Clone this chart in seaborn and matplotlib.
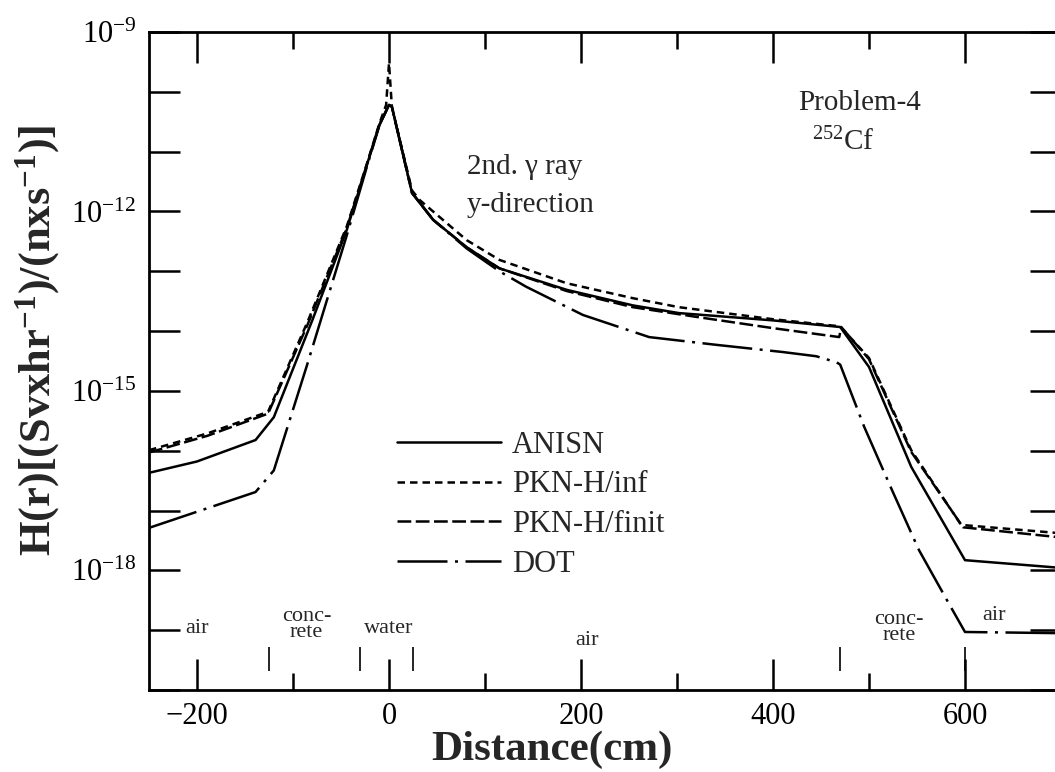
import numpy as np
import pandas as pd
import matplotlib
matplotlib.use("Agg")
import matplotlib.pyplot as plt
import matplotlib.ticker as mticker
import seaborn as sns

# --- data (distance in cm, H in Sv/hr per n/s) ---
models = ["ANISN", "PKN-H/inf", "PKN-H/finit", "DOT"]

anisn_x = [-250, -200, -139, -120, -80, -44, -23, -10, 0, 3, 24, 46, 81, 115,
           185, 254, 302, 400, 470, 500, 544, 600, 700]
anisn_h = [4.27e-17, 6.61e-17, 1.51e-16, 3.63e-16, 1.5e-14, 4.9e-13, 6.03e-12,
           2.82e-11, 6.03e-11, 5.62e-11, 2.04e-12, 7.24e-13, 2.51e-13, 1.12e-13,
           4.9e-14, 2.69e-14, 2.0e-14, 1.51e-14, 1.17e-14, 2.51e-15, 5.37e-17,
           1.48e-18, 1.10e-18]

pkn_inf_x = [-250, -189, -126, -85, -44, -23, -10, -3, 0, 3, 24, 32, 81, 115,
             185, 254, 302, 400, 470, 500, 544, 596, 700]
pkn_inf_h = [1.02e-16, 1.95e-16, 4.47e-16, 1.41e-14, 5.62e-13, 6.31e-12,
             2.95e-11, 6.03e-11, 3.02e-10, 5.62e-11, 2.24e-12, 1.55e-12,
             3.31e-13, 1.55e-13, 6.31e-14, 3.55e-14, 2.51e-14, 1.58e-14,
             1.2e-14, 3.55e-15, 1.02e-16, 5.75e-18, 4.17e-18]

pkn_fin_x = [-250, -189, -126, -85, -44, -23, -10, 0, 3, 24, 46, 81, 115, 185,
             254, 323, 400, 469, 471, 500, 544, 598, 700]
pkn_fin_h = [9.33e-17, 1.78e-16, 4.17e-16, 1.26e-14, 5.25e-13, 6.03e-12,
             2.82e-11, 6.03e-11, 5.62e-11, 2.04e-12, 7.24e-13, 2.51e-13,
             1.12e-13, 4.68e-14, 2.51e-14, 1.7e-14, 1.12e-14, 7.94e-15,
             1.17e-14, 3.39e-15, 9.55e-17, 5.25e-18, 3.55e-18]

dot_x = [-250, -139, -120, -86, -44, -23, -10, 0, 3, 24, 46, 81, 115, 143, 202,
         271, 341, 410, 445, 466, 470, 495, 524, 552, 583, 600, 700]
dot_h = [5.13e-18, 2.04e-17, 4.68e-17, 2.51e-15, 3.98e-13, 5.62e-12, 2.75e-11,
         6.03e-11, 5.62e-11, 2.04e-12, 7.24e-13, 2.4e-13, 1.0e-13, 5.5e-14,
         1.86e-14, 7.94e-15, 5.89e-15, 4.47e-15, 3.8e-15, 3.02e-15, 2.75e-15,
         2.51e-16, 2.19e-17, 2.19e-18, 2.82e-19, 9.33e-20, 8.91e-20]

# material boundaries and region names
boundaries = [-125, -30, 25, 470, 600]
region_names = ["air", "conc-\nrete", "water", "air", "conc-\nrete", "air"]
region_x = [-200, -86, 0, 206, 531, 630]
region_y = [1.07e-19, 1.26e-19, 1.07e-19, 6.8e-20, 1.1e-19, 1.78e-19]

frames = []
for name, xs, hs in zip(models,
                        [anisn_x, pkn_inf_x, pkn_fin_x, dot_x],
                        [anisn_h, pkn_inf_h, pkn_fin_h, dot_h]):
    frames.append(pd.DataFrame({"Distance": xs, "H": hs, "model": name}))
df = pd.concat(frames, ignore_index=True)

# --- style ---
sns.set_style("ticks")
plt.rcParams["font.family"] = ["Liberation Serif", "DejaVu Serif"]
plt.rcParams["mathtext.fontset"] = "custom"
plt.rcParams["mathtext.rm"] = "Liberation Serif"
plt.rcParams["mathtext.it"] = "Liberation Serif:italic"
plt.rcParams["mathtext.bf"] = "Liberation Serif:bold"

fig = plt.figure(figsize=(10.55, 7.72), dpi=100)
ax = fig.add_axes([149 / 1055, 1 - 690 / 772, 912 / 1055, 658 / 772])

dash_map = {"ANISN": "", "PKN-H/inf": (3, 2), "PKN-H/finit": (5.5, 1.8),
            "DOT": (20, 3, 1.2, 3)}
sns.lineplot(data=df, x="Distance", y="H", style="model", style_order=models,
             dashes=dash_map, color="black", linewidth=1.8, estimator=None,
             sort=False, legend=False, ax=ax)

ax.set_yscale("log")
ax.set_xlim(-250, 700)
ax.set_ylim(1e-20, 1e-9)

# x ticks
ax.xaxis.set_major_locator(mticker.MultipleLocator(200))
ax.xaxis.set_minor_locator(mticker.MultipleLocator(100))
ax.xaxis.set_major_formatter(mticker.FuncFormatter(lambda v, p: f"{v:.0f}".replace("-", "\u2212")))

# y ticks: every decade, labels every third decade
ax.yaxis.set_major_locator(mticker.LogLocator(base=10, numticks=30))
ax.yaxis.set_minor_locator(mticker.NullLocator())
def ylab(v, p):
    e = int(round(np.log10(v)))
    return rf"$10^{{{e}}}$" if e in (-9, -12, -15, -18) else ""
ax.yaxis.set_major_formatter(mticker.FuncFormatter(ylab))

ax.tick_params(which="both", direction="in", top=True, right=True,
               width=1.8, labelsize=22, pad=9, colors="black")
ax.tick_params(which="major", length=22)
ax.tick_params(which="minor", length=12)
for s in ax.spines.values():
    s.set_linewidth(2)
    s.set_color("black")

ax.set_xlabel("Distance(cm)", fontsize=31, fontweight="bold")
ax.xaxis.set_label_coords((552 - 149) / 912, -0.062)
ax.set_ylabel(r"H(r)[(Svxhr$^{\mathbf{-1}}$)/(nxs$^{\mathbf{-1}}$)]",
              fontsize=32, fontweight="bold")
ax.yaxis.set_label_coords(-0.095, 0.532)

# legend
ax.legend(ax.lines[:4], models, loc="upper left", bbox_to_anchor=(0.272, 0.394),
          frameon=False, fontsize=22, handlelength=3.4, handletextpad=0.35,
          labelspacing=0.35, borderaxespad=0, borderpad=0)

# annotations
ax.text(81, 5.5e-12, "2nd. \u03b3 ray", fontsize=21, va="center", ha="left")
ax.text(81, 1.3e-12, "y-direction", fontsize=21, va="center", ha="left")
ax.text(426, 6.6e-11, "Problem-4", fontsize=21, va="center", ha="left")
ax.text(441, 1.45e-11, r"$^{252}$Cf", fontsize=21, va="center", ha="left")

# material regions
ax.vlines(boundaries, 2.1e-20, 5.2e-20, colors="black", linewidth=1.2)
for name, rx, ry in zip(region_names, region_x, region_y):
    ax.text(rx, ry, name, fontsize=16, ha="center", va="center", linespacing=0.8)

fig.savefig("out.png", dpi=100)
